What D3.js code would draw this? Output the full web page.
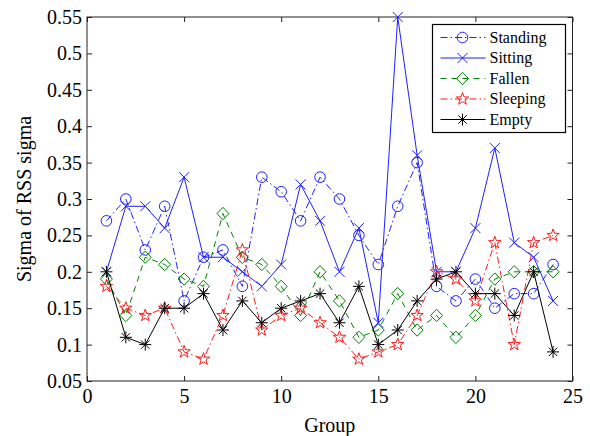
<!DOCTYPE html>
<html>
<head>
<meta charset="utf-8">
<script src="https://cdn.jsdelivr.net/npm/d3@7"></script>
<style>
  body { margin: 0; background: #fff; }
  svg text { font-family: "Liberation Serif", "Times New Roman", serif; fill: #000; }
</style>
</head>
<body>
<div id="chart"></div>
<script>
// data, groups 1..24
const groups = d3.range(1, 25);
const standing = [0.27,0.30,0.23,0.29,0.16,0.22,0.23,0.18,0.33,0.31,0.27,0.33,0.30,0.25,0.21,0.29,0.35,0.18,0.16,0.19,0.15,0.17,0.17,0.21];
const sitting  = [0.20,0.29,0.29,0.26,0.33,0.22,0.22,0.20,0.18,0.21,0.32,0.27,0.20,0.26,0.13,0.55,0.36,0.20,0.20,0.26,0.37,0.24,0.22,0.16];
const fallen   = [0.19,0.14,0.22,0.21,0.19,0.18,0.28,0.22,0.21,0.18,0.14,0.20,0.16,0.11,0.12,0.17,0.12,0.14,0.11,0.14,0.19,0.20,0.20,0.20];
const sleeping = [0.18,0.15,0.14,0.15,0.09,0.08,0.14,0.23,0.12,0.14,0.15,0.13,0.11,0.08,0.09,0.10,0.14,0.20,0.19,0.16,0.24,0.10,0.24,0.25];
const empty    = [0.20,0.11,0.10,0.15,0.15,0.17,0.12,0.16,0.13,0.15,0.16,0.17,0.13,0.18,0.10,0.12,0.16,0.19,0.20,0.17,0.17,0.14,0.20,0.09];

const xTicks = [0, 5, 10, 15, 20, 25];
const yTicks = [0.05, 0.1, 0.15, 0.2, 0.25, 0.3, 0.35, 0.4, 0.45, 0.5, 0.55];

const series = [
  {name: 'Standing', values: standing, color: '#1f1fff', dash: '7,3,1.5,3', marker: 'circle'},
  {name: 'Sitting',  values: sitting,  color: '#1f1fff', dash: null,        marker: 'x'},
  {name: 'Fallen',   values: fallen,   color: '#008000', dash: '6,5',       marker: 'diamond'},
  {name: 'Sleeping', values: sleeping, color: '#ff1a1a', dash: '7,3,1.5,3', marker: 'star'},
  {name: 'Empty',    values: empty,    color: '#000000', dash: null,        marker: 'asterisk'}
];

const width = 590, height = 436;
const mLeft = 87, mRight = 572.5, mTop = 17, mBottom = 381;

const svg = d3.select('#chart').append('svg')
    .attr('width', width)
    .attr('height', height);

const x = d3.scaleLinear([0, 25], [mLeft, mRight]);
const y = d3.scaleLinear([0.05, 0.55], [mBottom, mTop]);

// axes: ticks point inward on all four sides
const axisB = d3.axisBottom(x).tickValues(xTicks).tickFormat(d3.format('d'))
    .tickSizeInner(-5).tickSizeOuter(0).tickPadding(8);
const axisT = d3.axisTop(x).tickValues(xTicks).tickFormat('')
    .tickSizeInner(-5).tickSizeOuter(0);
const axisL = d3.axisLeft(y).tickValues(yTicks).tickFormat(d => d3.format('.2~f')(d))
    .tickSizeInner(-5).tickSizeOuter(0).tickPadding(5);
const axisR = d3.axisRight(y).tickValues(yTicks).tickFormat('')
    .tickSizeInner(-5).tickSizeOuter(0);

function styleAxis(g){
  g.attr('font-family', '"Liberation Serif", serif').attr('font-size', 20);
  g.select('.domain').remove();
  g.selectAll('line').attr('stroke', '#222');
  g.selectAll('text').attr('fill', '#000');
}

svg.append('g').attr('transform', `translate(0,${mBottom})`).call(axisB).call(styleAxis);
svg.append('g').attr('transform', `translate(0,${mTop})`).call(axisT).call(styleAxis);
svg.append('g').attr('transform', `translate(${mLeft},0)`).call(axisL).call(styleAxis);
svg.append('g').attr('transform', `translate(${mRight},0)`).call(axisR).call(styleAxis);

svg.append('rect')
    .attr('x', mLeft).attr('y', mTop)
    .attr('width', mRight - mLeft).attr('height', mBottom - mTop)
    .attr('fill', 'none').attr('stroke', '#222').attr('stroke-width', 1);

// axis labels
svg.append('text')
    .attr('x', (mLeft + mRight) / 2).attr('y', 432)
    .attr('text-anchor', 'middle')
    .style('font-size', '20px')
    .text('Group');

svg.append('text')
    .attr('transform', `translate(31,${(mTop + mBottom) / 2})rotate(-90)`)
    .attr('text-anchor', 'middle')
    .style('font-size', '20px')
    .text('Sigma of RSS sigma');

// marker shapes
function drawMarker(g, type, color){
  if (type === 'circle') {
    g.append('circle').attr('r', 5.3).attr('fill', 'none').attr('stroke', color);
  } else if (type === 'x') {
    g.append('path').attr('d', 'M-5,-5L5,5M-5,5L5,-5').attr('stroke', color);
  } else if (type === 'diamond') {
    g.append('path').attr('d', 'M0,-6.2L6,0L0,6.2L-6,0Z').attr('fill', 'none').attr('stroke', color);
  } else if (type === 'star') {
    const pts = d3.range(10).map(i => {
      const r = i % 2 ? 2.6 : 6.5;
      const a = -Math.PI / 2 + i * Math.PI / 5;
      return [r * Math.cos(a), r * Math.sin(a)];
    });
    g.append('path').attr('d', 'M' + pts.join('L') + 'Z').attr('fill', 'none').attr('stroke', color);
  } else if (type === 'asterisk') {
    g.append('path').attr('d', 'M-6,0L6,0M0,-6L0,6M-4.2,-4.2L4.2,4.2M-4.2,4.2L4.2,-4.2').attr('stroke', color);
  }
}

const line = d3.line()
    .x((d, i) => x(groups[i]))
    .y(d => y(d));

const plot = svg.append('g');

series.forEach(s => {
  plot.append('path')
      .attr('d', line(s.values))
      .attr('fill', 'none')
      .attr('stroke', s.color)
      .attr('stroke-width', 1)
      .attr('stroke-dasharray', s.dash);

  plot.selectAll(null)
      .data(s.values)
      .join('g')
      .attr('transform', (d, i) => `translate(${x(groups[i])},${y(d)})`)
      .each(function(){ drawMarker(d3.select(this), s.marker, s.color); });
});

// legend
const legend = svg.append('g').attr('transform', 'translate(432.5,24.5)');
legend.append('rect')
    .attr('width', 133).attr('height', 108)
    .attr('fill', '#fff').attr('stroke', '#000').attr('stroke-width', 1.2);

series.forEach((s, i) => {
  const row = legend.append('g').attr('transform', `translate(0,${13 + i * 20.5})`);
  row.append('line')
      .attr('x1', 8).attr('x2', 53)
      .attr('stroke', s.color)
      .attr('stroke-dasharray', s.dash);
  const m = row.append('g').attr('transform', 'translate(30,0)');
  drawMarker(m, s.marker, s.color);
  row.append('text')
      .attr('x', 57).attr('dy', '0.33em')
      .style('font-size', '16px')
      .text(s.name);
});
</script>
</body>
</html>
